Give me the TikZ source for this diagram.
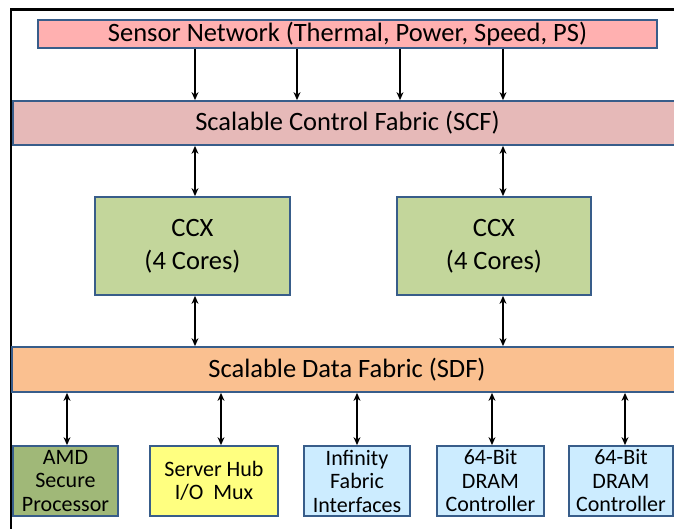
\documentclass[tikz,border=0pt]{standalone}
\usepackage{fontspec}
\setmainfont{Carlito}
\usetikzlibrary{arrows.meta}

\definecolor{boxline}{RGB}{56,93,138}
\definecolor{sensorpink}{RGB}{255,176,176}
\definecolor{scfpink}{RGB}{230,185,184}
\definecolor{ccxgreen}{RGB}{195,214,155}
\definecolor{sdforange}{RGB}{250,192,144}
\definecolor{amdgreen}{RGB}{160,184,120}
\definecolor{hubyellow}{RGB}{255,255,128}
\definecolor{ifblue}{RGB}{204,236,255}

\tikzset{
  blk/.style={draw=boxline,line width=1.8pt,inner sep=0pt,align=center},
  bigtxt/.style={font=\fontsize{26.5}{33}\selectfont},
  smalltxt/.style={font=\fontsize{22}{23.5}\selectfont},
  feed/.style={line width=1.1pt,-{Stealth[length=8pt,width=7pt]}},
  link/.style={line width=1.1pt,{Stealth[length=8pt,width=7pt]}-{Stealth[length=8pt,width=7pt]}}
}

\begin{document}
\begin{tikzpicture}[x=1pt,y=-1pt]
  \useasboundingbox (0,0) rectangle (674,529);
  \clip (0,0) rectangle (674,529);
  % outer frame
  \draw[line width=2.5pt] (11,9.5) rectangle (720,580);

  % bars
  \node[blk,bigtxt,fill=sensorpink,minimum width=619pt,minimum height=28pt] (sensor) at (347.5,34) {Sensor Network (Thermal, Power, Speed, PS)};
  \node[blk,bigtxt,fill=scfpink,minimum width=669pt,minimum height=44pt] (scf) at (347.5,123) {Scalable Control Fabric (SCF)};
  \node[blk,bigtxt,fill=sdforange,minimum width=670pt,minimum height=45pt] (sdf) at (347,369.5) {Scalable Data Fabric (SDF)};

  % core complexes
  \node[blk,bigtxt,fill=ccxgreen,minimum width=195pt,minimum height=98pt] (ccxa) at (192.5,246) {CCX\\(4 Cores)};
  \node[blk,bigtxt,fill=ccxgreen,minimum width=194pt,minimum height=98pt] (ccxb) at (494,246) {CCX\\(4 Cores)};

  % bottom row
  \node[blk,smalltxt,fill=amdgreen,minimum width=105pt,minimum height=70pt] (amd) at (65.5,481) {AMD\\Secure\\Processor};
  \node[blk,smalltxt,fill=hubyellow,minimum width=128pt,minimum height=70pt] (hub) at (214,481) {Server Hub\\I/O\ \ Mux};
  \node[blk,smalltxt,fill=ifblue,minimum width=106pt,minimum height=70pt] (inf) at (357,481) {Infinity\\Fabric\\Interfaces};
  \node[blk,smalltxt,fill=ifblue,minimum width=107pt,minimum height=70pt] (drama) at (490.5,481) {64-Bit\\DRAM\\Controller};
  \node[blk,smalltxt,fill=ifblue,minimum width=104pt,minimum height=70pt] (dramb) at (621,481) {64-Bit\\DRAM\\Controller};

  % arrow columns
  \coordinate (sa) at (195,0);
  \coordinate (sb) at (297,0);
  \coordinate (sc) at (400,0);
  \coordinate (sd) at (503,0);
  \coordinate (ba) at (67,0);
  \coordinate (bb) at (221,0);
  \coordinate (bc) at (357,0);
  \coordinate (bd) at (492,0);
  \coordinate (be) at (625,0);

  % sensors to SCF
  \foreach \col in {sa,sb,sc,sd}
    \draw[feed] (sensor.south -| \col) -- (scf.north -| \col);

  % SCF / CCX / SDF
  \draw[link] (scf.south -| sa) -- (ccxa.north -| sa);
  \draw[link] (scf.south -| sd) -- (ccxb.north -| sd);
  \draw[link] (ccxa.south -| sa) -- (sdf.north -| sa);
  \draw[link] (ccxb.south -| sd) -- (sdf.north -| sd);

  % SDF to the bottom row
  \draw[link] (sdf.south -| ba) -- (amd.north -| ba);
  \draw[link] (sdf.south -| bb) -- (hub.north -| bb);
  \draw[link] (sdf.south -| bc) -- (inf.north -| bc);
  \draw[link] (sdf.south -| bd) -- (drama.north -| bd);
  \draw[link] (sdf.south -| be) -- (dramb.north -| be);
\end{tikzpicture}
\end{document}
